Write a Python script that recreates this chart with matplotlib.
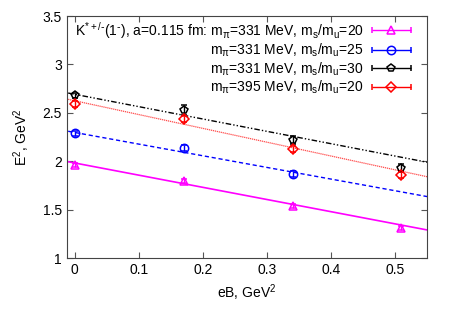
import numpy as np
import matplotlib
matplotlib.use('Agg')
import matplotlib.pyplot as plt
from matplotlib.legend_handler import HandlerErrorbar

plt.rcParams['font.family'] = ['Liberation Sans', 'DejaVu Sans']
plt.rcParams['mathtext.default'] = 'regular'
plt.rcParams['font.size'] = 10

# data
eB = [0.0, 0.17, 0.34, 0.51]
e2_20 = [1.96, 1.795, 1.54, 1.31]
err_20 = [0.02, 0.02, 0.02, 0.02]
e2_25 = [2.29, 2.14, 1.865]
err_25 = [0.025, 0.03, 0.03]
e2_30 = [2.68, 2.53, 2.22, 1.93]
err_30 = [0.03, 0.05, 0.04, 0.04]
e2_395 = [2.59, 2.44, 2.126, 1.857]
err_395 = [0.03, 0.03, 0.03, 0.03]

# fit line end points
fit_x = [-0.01, 0.55]
fit_20 = [1.995, 1.29]
fit_25 = [2.31, 1.635]
fit_30 = [2.705, 1.99]
fit_395 = [2.64, 1.84]

labels = [r'K$^{*+/\text{-}}$(1$^{\text{-}}$), a=0.115 fm: m$_{\pi}$=331 MeV, m$_s$/m$_u$=20',
          r'm$_{\pi}$=331 MeV, m$_s$/m$_u$=25',
          r'm$_{\pi}$=331 MeV, m$_s$/m$_u$=30',
          r'm$_{\pi}$=395 MeV, m$_s$/m$_u$=20']
colors = ['#ff00ff', '#0000ff', '#000000', '#ff0000']
markers = ['^', 'o', 'p', 'D']
msizes = [6, 6, 6, 5]

fig = plt.figure(figsize=(4.52, 3.16), dpi=100)
ax = fig.add_axes([0.148, 0.1835, 0.797, 0.7655])

series = [(eB, e2_20, err_20, fit_20), (eB[:3], e2_25, err_25, fit_25),
          (eB, e2_30, err_30, fit_30), (eB, e2_395, err_395, fit_395)]
styles = [dict(ls='-', lw=1.2), dict(ls=(0, (3, 2)), lw=1.0),
          dict(ls=(0, (4, 1.5, 1, 1.5, 1, 1.5)), lw=1.0), dict(ls=(0, (1, 0.6)), lw=0.9, alpha=0.7)]

handles = []
for (x, y, e, fit), c, m, ms, st in zip(series, colors, markers, msizes, styles):
    ax.plot(fit_x, fit, color=c, **st)
    ax.errorbar(x, y, yerr=e, fmt=m, color=c, mfc='none', ms=ms, mew=1.1,
                capsize=2, elinewidth=1, ls='none')
    h = ax.errorbar([np.nan], [np.nan], xerr=[1], fmt=m, color=c, mfc='none',
                    ms=ms, mew=1.1, capsize=2.5, elinewidth=1)
    handles.append(h)

ax.set_xlim(-0.012, 0.55)
ax.set_ylim(1, 3.5)
ax.set_xticks([0, 0.1, 0.2, 0.3, 0.4, 0.5])
ax.set_xticklabels(['0', '0.1', '0.2', '0.3', '0.4', '0.5'])
ax.set_yticks([1, 1.5, 2, 2.5, 3, 3.5])
ax.set_yticklabels(['1', '1.5', '2', '2.5', '3', '3.5'])
ax.tick_params(direction='in', top=True, right=True, length=4, color='#555555', labelsize=10)
for s in ax.spines.values():
    s.set_color('#444444')
ax.set_xlabel('eB, GeV$^2$', labelpad=4)
ax.set_ylabel('E$^2$, GeV$^2$', labelpad=8)

hm = {h: HandlerErrorbar(xerr_size=1.4) for h in handles}
ax.legend(handles, labels, loc='upper right', bbox_to_anchor=(0.955, 0.985),
          frameon=False, markerfirst=False, handlelength=2.8, handletextpad=0.6,
          labelspacing=0.08, borderaxespad=0, borderpad=0, handler_map=hm, fontsize=10)

fig.savefig('out.png', dpi=100)
